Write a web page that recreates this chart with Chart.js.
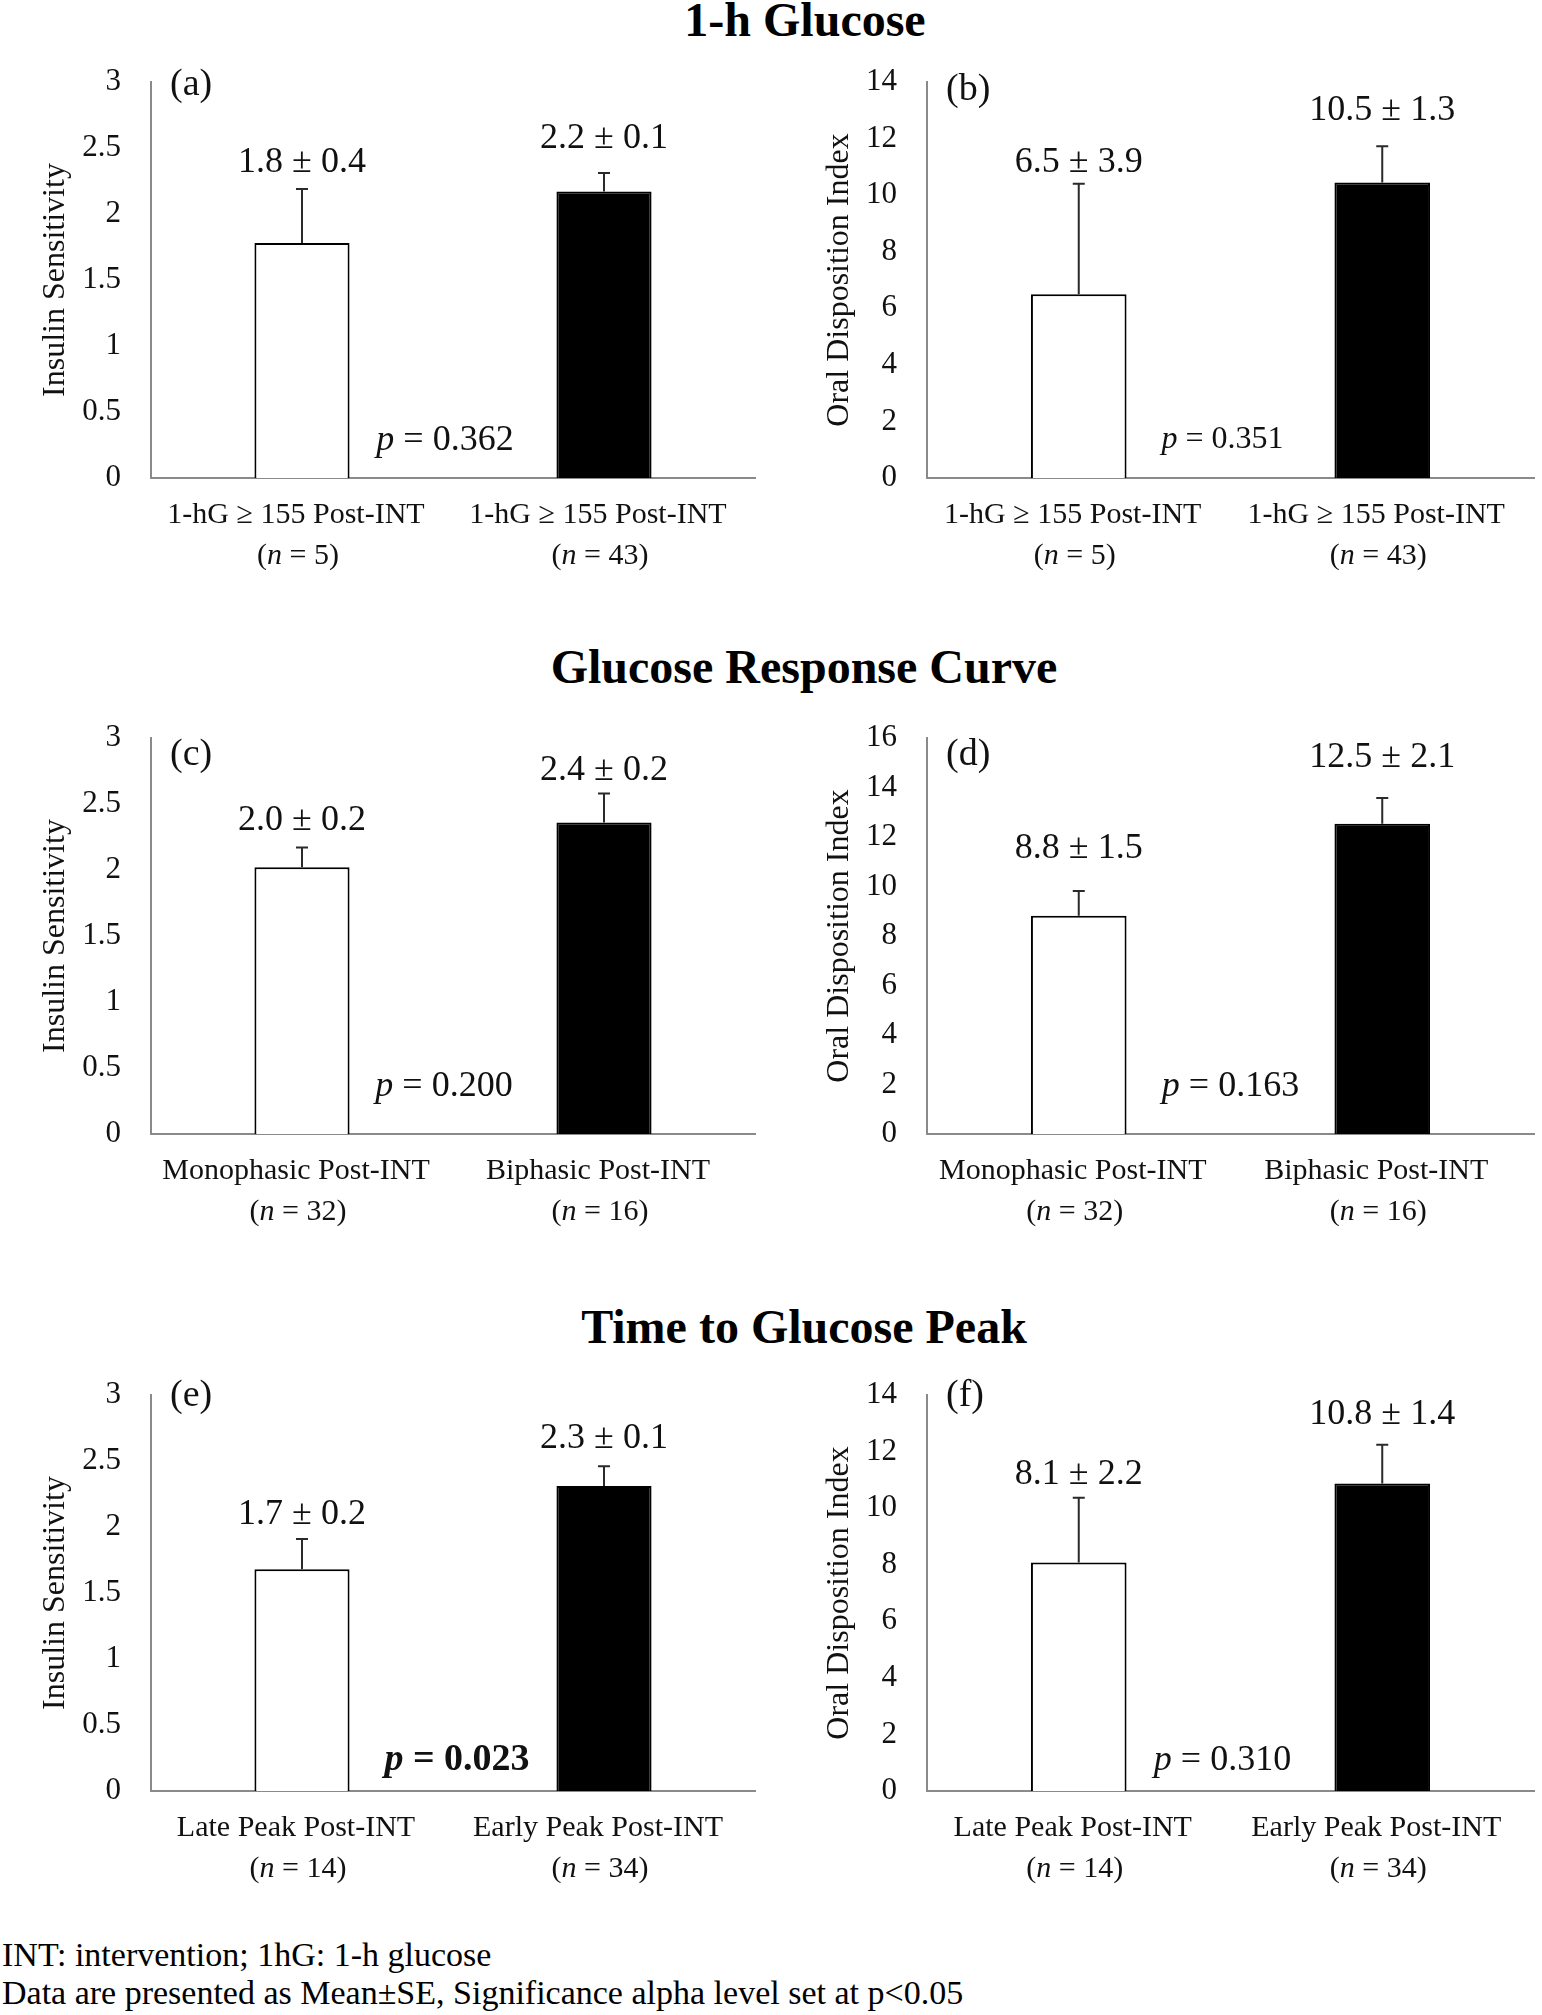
<!DOCTYPE html>
<html>
<head>
<meta charset="utf-8">
<script src="https://cdn.jsdelivr.net/npm/chart.js@4.4.0/dist/chart.umd.min.js"></script>
<style>
  body { margin: 0; background: #fff; }
  #page { position: relative; width: 1542px; height: 2015px; overflow: hidden; background: #fff;
          font-family: "Liberation Serif", "Times New Roman", serif; color: #000; }
  canvas.panel { position: absolute; }
  .title { position: absolute; font-weight: bold; font-size: 48px; line-height: 48px;
           white-space: nowrap; transform: translateX(-50%); }
  .note { position: absolute; left: 2px; font-size: 34px; line-height: 34px; white-space: nowrap; }
</style>
</head>
<body>
<div id="page">
  <div class="title" style="left:805px; top:-4px;">1-h Glucose</div>
  <div class="title" style="left:804px; top:643px;">Glucose Response Curve</div>
  <div class="title" style="left:804px; top:1303px;">Time to Glucose Peak</div>

  <canvas class="panel" id="pa" width="771" height="596" style="left:0px; top:2px;"></canvas>
  <canvas class="panel" id="pb" width="771" height="596" style="left:771px; top:2px;"></canvas>
  <canvas class="panel" id="pc" width="771" height="596" style="left:0px; top:658px;"></canvas>
  <canvas class="panel" id="pd" width="771" height="596" style="left:771px; top:658px;"></canvas>
  <canvas class="panel" id="pe" width="771" height="596" style="left:0px; top:1315px;"></canvas>
  <canvas class="panel" id="pf" width="771" height="596" style="left:771px; top:1315px;"></canvas>

  <div class="note" style="top:1938px;">INT: intervention; 1hG: 1-h glucose</div>
  <div class="note" style="top:1976px;">Data are presented as Mean±SE, Significance alpha level set at p&lt;0.05</div>
</div>

<script>
// categories and group sizes
const catsHour = ["1-hG \u2265 155 Post-INT", "1-hG \u2265 155 Post-INT"];
const nHour = [5, 43];
const catsCurve = ["Monophasic Post-INT", "Biphasic Post-INT"];
const nCurve = [32, 16];
const catsPeak = ["Late Peak Post-INT", "Early Peak Post-INT"];
const nPeak = [14, 34];

// bar heights and error bar lengths as drawn
const insulinHour = [1.78, 2.17];
const insulinHourErr = [0.41, 0.14];
const odiHour = [6.5, 10.45];
const odiHourErr = [3.9, 1.28];
const insulinCurve = [2.02, 2.36];
const insulinCurveErr = [0.15, 0.22];
const odiCurve = [8.82, 12.54];
const odiCurveErr = [1.0, 1.04];
const insulinPeak = [1.68, 2.31];
const insulinPeakErr = [0.23, 0.15];
const odiPeak = [8.08, 10.87];
const odiPeakErr = [2.29, 1.37];

// printed mean ± SE labels
const labelsInsulinHour = ["1.8 \u00b1 0.4", "2.2 \u00b1 0.1"];
const labelsOdiHour = ["6.5 \u00b1 3.9", "10.5 \u00b1 1.3"];
const labelsInsulinCurve = ["2.0 \u00b1 0.2", "2.4 \u00b1 0.2"];
const labelsOdiCurve = ["8.8 \u00b1 1.5", "12.5 \u00b1 2.1"];
const labelsInsulinPeak = ["1.7 \u00b1 0.2", "2.3 \u00b1 0.1"];
const labelsOdiPeak = ["8.1 \u00b1 2.2", "10.8 \u00b1 1.4"];

const pValues = ["0.362", "0.351", "0.200", "0.163", "0.023", "0.310"];

const FONT = '"Liberation Serif", "Times New Roman", serif';
const AXIS = "#8a8a8a";

const panels = [
  { id: "pa", tag: "(a)", cats: catsHour, n: nHour, vals: insulinHour, err: insulinHourErr, labels: labelsInsulinHour,
    yMax: 3, step: 0.5, yTitle: "Insulin Sensitivity", p: pValues[0], right: false,
    gaps: [17, 25], tagDy: 13, pDy: 28, pDx: -8, pSize: 36, pBold: false },
  { id: "pb", tag: "(b)", cats: catsHour, n: nHour, vals: odiHour, err: odiHourErr, labels: labelsOdiHour,
    yMax: 14, step: 2, yTitle: "Oral Disposition Index", p: pValues[1], right: true,
    gaps: [12, 26], tagDy: 18, pDy: 30, pDx: -8, pSize: 32, pBold: false },
  { id: "pc", tag: "(c)", cats: catsCurve, n: nCurve, vals: insulinCurve, err: insulinCurveErr, labels: labelsInsulinCurve,
    yMax: 3, step: 0.5, yTitle: "Insulin Sensitivity", p: pValues[2], right: false,
    gaps: [18, 13], tagDy: 27, pDy: 38, pDx: -9, pSize: 36, pBold: false },
  { id: "pd", tag: "(d)", cats: catsCurve, n: nCurve, vals: odiCurve, err: odiCurveErr, labels: labelsOdiCurve,
    yMax: 16, step: 2, yTitle: "Oral Disposition Index", p: pValues[3], right: true,
    gaps: [33, 31], tagDy: 27, pDy: 38, pDx: 0, pSize: 36, pBold: false },
  { id: "pe", tag: "(e)", cats: catsPeak, n: nPeak, vals: insulinPeak, err: insulinPeakErr, labels: labelsInsulinPeak,
    yMax: 3, step: 0.5, yTitle: "Insulin Sensitivity", p: pValues[4], right: false,
    gaps: [15, 18], tagDy: 11, pDy: 21, pDx: 4, pSize: 38, pBold: true },
  { id: "pf", tag: "(f)", cats: catsPeak, n: nPeak, vals: odiPeak, err: odiPeakErr, labels: labelsOdiPeak,
    yMax: 14, step: 2, yTitle: "Oral Disposition Index", p: pValues[5], right: true,
    gaps: [14, 21], tagDy: 11, pDy: 21, pDx: -8, pSize: 36, pBold: false }
];

// draws runs of [text, italic] centred on x
function drawRuns(ctx, runs, x, y, size, bold) {
  const w = bold ? "bold " : "";
  let total = 0;
  runs.forEach(r => {
    ctx.font = (r[1] ? "italic " : "") + w + size + "px " + FONT;
    total += ctx.measureText(r[0]).width;
  });
  let cx = x - total / 2;
  ctx.textAlign = "left";
  runs.forEach(r => {
    ctx.font = (r[1] ? "italic " : "") + w + size + "px " + FONT;
    ctx.fillText(r[0], cx, y);
    cx += ctx.measureText(r[0]).width;
  });
}

function extras(cfg) {
  return {
    id: "extras",
    afterDatasetsDraw(chart) {
      const ctx = chart.ctx;
      const xs = chart.scales.x, ys = chart.scales.y;
      const area = chart.chartArea;
      ctx.save();
      ctx.fillStyle = "#111";
      ctx.textBaseline = "alphabetic";

      // error bars and value labels
      cfg.vals.forEach((v, i) => {
        const x = xs.getPixelForValue(i);
        const yBar = ys.getPixelForValue(v);
        const yTop = ys.getPixelForValue(v + cfg.err[i]);
        ctx.strokeStyle = "#2a2a2a";
        ctx.lineWidth = 2;
        ctx.beginPath();
        ctx.moveTo(x, yBar);
        ctx.lineTo(x, yTop);
        ctx.moveTo(x - 6, yTop);
        ctx.lineTo(x + 6, yTop);
        ctx.stroke();
        ctx.font = "36px " + FONT;
        ctx.textAlign = "center";
        ctx.fillText(cfg.labels[i], x, yTop - cfg.gaps[i]);
      });

      // category labels with italic n
      cfg.cats.forEach((c, i) => {
        const x = xs.getPixelForValue(i);
        ctx.font = "30px " + FONT;
        ctx.textAlign = "center";
        ctx.fillText(c, x - 6, area.bottom + 45);
        drawRuns(ctx, [["(", false], ["n", true], [" = " + cfg.n[i] + ")", false]], x - 4, area.bottom + 86, 30, false);
      });

      // p value
      const px = xs.getPixelForValue(0.5) + cfg.pDx;
      drawRuns(ctx, [["p", true], [" = " + cfg.p, false]], px, area.bottom - cfg.pDy, cfg.pSize, cfg.pBold);

      // panel tag
      ctx.font = "38px " + FONT;
      ctx.textAlign = "left";
      ctx.fillText(cfg.tag, area.left + 19, area.top + cfg.tagDy);

      // y axis title
      ctx.save();
      ctx.translate(cfg.right ? 69 : 56, (area.top + area.bottom) / 2);
      ctx.rotate(-Math.PI / 2);
      ctx.font = "32px " + FONT;
      ctx.textAlign = "center";
      ctx.textBaseline = "middle";
      ctx.fillText(cfg.yTitle, 0, 0);
      ctx.restore();

      ctx.restore();
    }
  };
}

panels.forEach(cfg => {
  new Chart(document.getElementById(cfg.id), {
    type: "bar",
    data: {
      labels: cfg.cats,
      datasets: [{
        data: cfg.vals,
        backgroundColor: ["#ffffff", "#000000"],
        borderColor: "#000000",
        borderWidth: 2,
        barPercentage: 0.315,
        categoryPercentage: 1
      }]
    },
    options: {
      responsive: false,
      animation: false,
      layout: { padding: { top: 80, right: cfg.right ? 8 : 16, left: 0, bottom: 0 } },
      plugins: { legend: { display: false }, tooltip: { enabled: false } },
      scales: {
        x: {
          grid: { display: false, drawTicks: false },
          border: { display: true, color: AXIS, width: 2 },
          ticks: { display: false },
          afterFit: s => { s.height = 120; }
        },
        y: {
          min: 0,
          max: cfg.yMax,
          ticks: {
            stepSize: cfg.step,
            color: "#111",
            padding: 30,
            font: { family: FONT, size: 31 },
            callback: v => String(v)
          },
          grid: { display: false, drawTicks: false },
          border: { display: true, color: AXIS, width: 2 },
          afterFit: s => { s.width = cfg.right ? 156 : 151; }
        }
      }
    },
    plugins: [extras(cfg)]
  });
});
</script>
</body>
</html>
